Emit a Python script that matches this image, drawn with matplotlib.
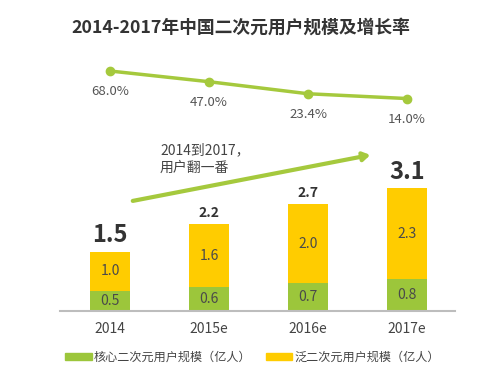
import matplotlib
matplotlib.use("Agg")
import matplotlib.pyplot as plt
from matplotlib.patches import Patch

plt.rcParams['font.family'] = ['Noto Sans CJK SC', 'DejaVu Sans']

# 数据
years = ['2014', '2015e', '2016e', '2017e']
core_users = [0.5, 0.6, 0.7, 0.8]
pan_users = [1.0, 1.6, 2.0, 2.3]
totals = [1.5, 2.2, 2.7, 3.1]
growth = [68.0, 47.0, 23.4, 14.0]
total_sizes = [17, 10, 10, 17]

green = '#9cc63b'
yellow = '#ffcc00'
line_green = '#a5c93d'

W, H = 500, 382
fig = plt.figure(figsize=(W / 100, H / 100), dpi=100)

def px_axes(left, top, right, bottom):
    return fig.add_axes([left / W, 1 - bottom / H, (right - left) / W, (bottom - top) / H])

# 柱状图
ax = px_axes(60, 60, 455, 311)
x = range(len(years))
ax.bar(x, core_users, width=0.4, color=green, zorder=2)
ax.bar(x, pan_users, width=0.4, bottom=core_users, color=yellow, zorder=2)
ax.set_xlim(-0.505, 3.485)
ax.set_ylim(0, 251 / 39.6)

for i in x:
    ax.text(i, core_users[i] / 2, f'{core_users[i]:.1f}', ha='center', va='center',
            fontsize=10, color='#4a4a4a')
    ax.text(i, core_users[i] + pan_users[i] / 2, f'{pan_users[i]:.1f}', ha='center',
            va='center', fontsize=10, color='#4a4a4a')
    ax.annotate(f'{totals[i]:.1f}', (i, totals[i]), xytext=(0, 3), textcoords='offset points',
                ha='center', va='bottom', fontsize=total_sizes[i], fontweight='bold',
                color='#333333')

for s in ['top', 'right', 'left']:
    ax.spines[s].set_visible(False)
ax.spines['bottom'].set_color('#bdbdbd')
ax.spines['bottom'].set_linewidth(1.5)
ax.set_yticks([])
ax.set_xticks(list(x))
ax.set_xticklabels(years, fontsize=10, color='#444444')
ax.tick_params(axis='x', length=0, pad=8)

# 箭头和说明
ax.annotate('', xy=(2.63, 3.94), xytext=(0.23, 2.78),
            arrowprops=dict(arrowstyle='-|>,head_length=0.4,head_width=0.25',
                            color=line_green, lw=3, shrinkA=0, shrinkB=0))
ax.text(0.505, 3.83, '2014到2017，\n用户翻一番', ha='left', va='center', fontsize=10,
        color='#444444', linespacing=1.3)

# 增长率折线
ax2 = px_axes(60, 60, 455, 130)
ax2.plot(list(x), growth, color=line_green, lw=2.5, marker='o', markersize=6, zorder=3)
ax2.set_xlim(-0.505, 3.485)
ax2.set_ylim(68 - 59 / 0.51, 68 + 11 / 0.51)
ax2.axis('off')
for i in x:
    ax2.annotate(f'{growth[i]:.1f}%', (i, growth[i]), xytext=(0, -15),
                 textcoords='offset points', ha='center', va='center',
                 fontsize=9.5, color='#555555')

# 标题
fig.text(0.482, 0.927, '2014-2017年中国二次元用户规模及增长率', ha='center', va='center',
         fontsize=12.8, fontweight='bold', color='#333333')

# 图例
handles = [Patch(color=green, label='核心二次元用户规模（亿人）'),
           Patch(color=yellow, label='泛二次元用户规模（亿人）')]
fig.legend(handles=handles, loc='center', bbox_to_anchor=(0.505, 1 - 357 / H), ncol=2,
           frameon=False, fontsize=8.7, handlelength=2.2, handleheight=0.5,
           handletextpad=0.15, columnspacing=1.2, labelcolor='#444444')

fig.savefig('out.png', dpi=100)
